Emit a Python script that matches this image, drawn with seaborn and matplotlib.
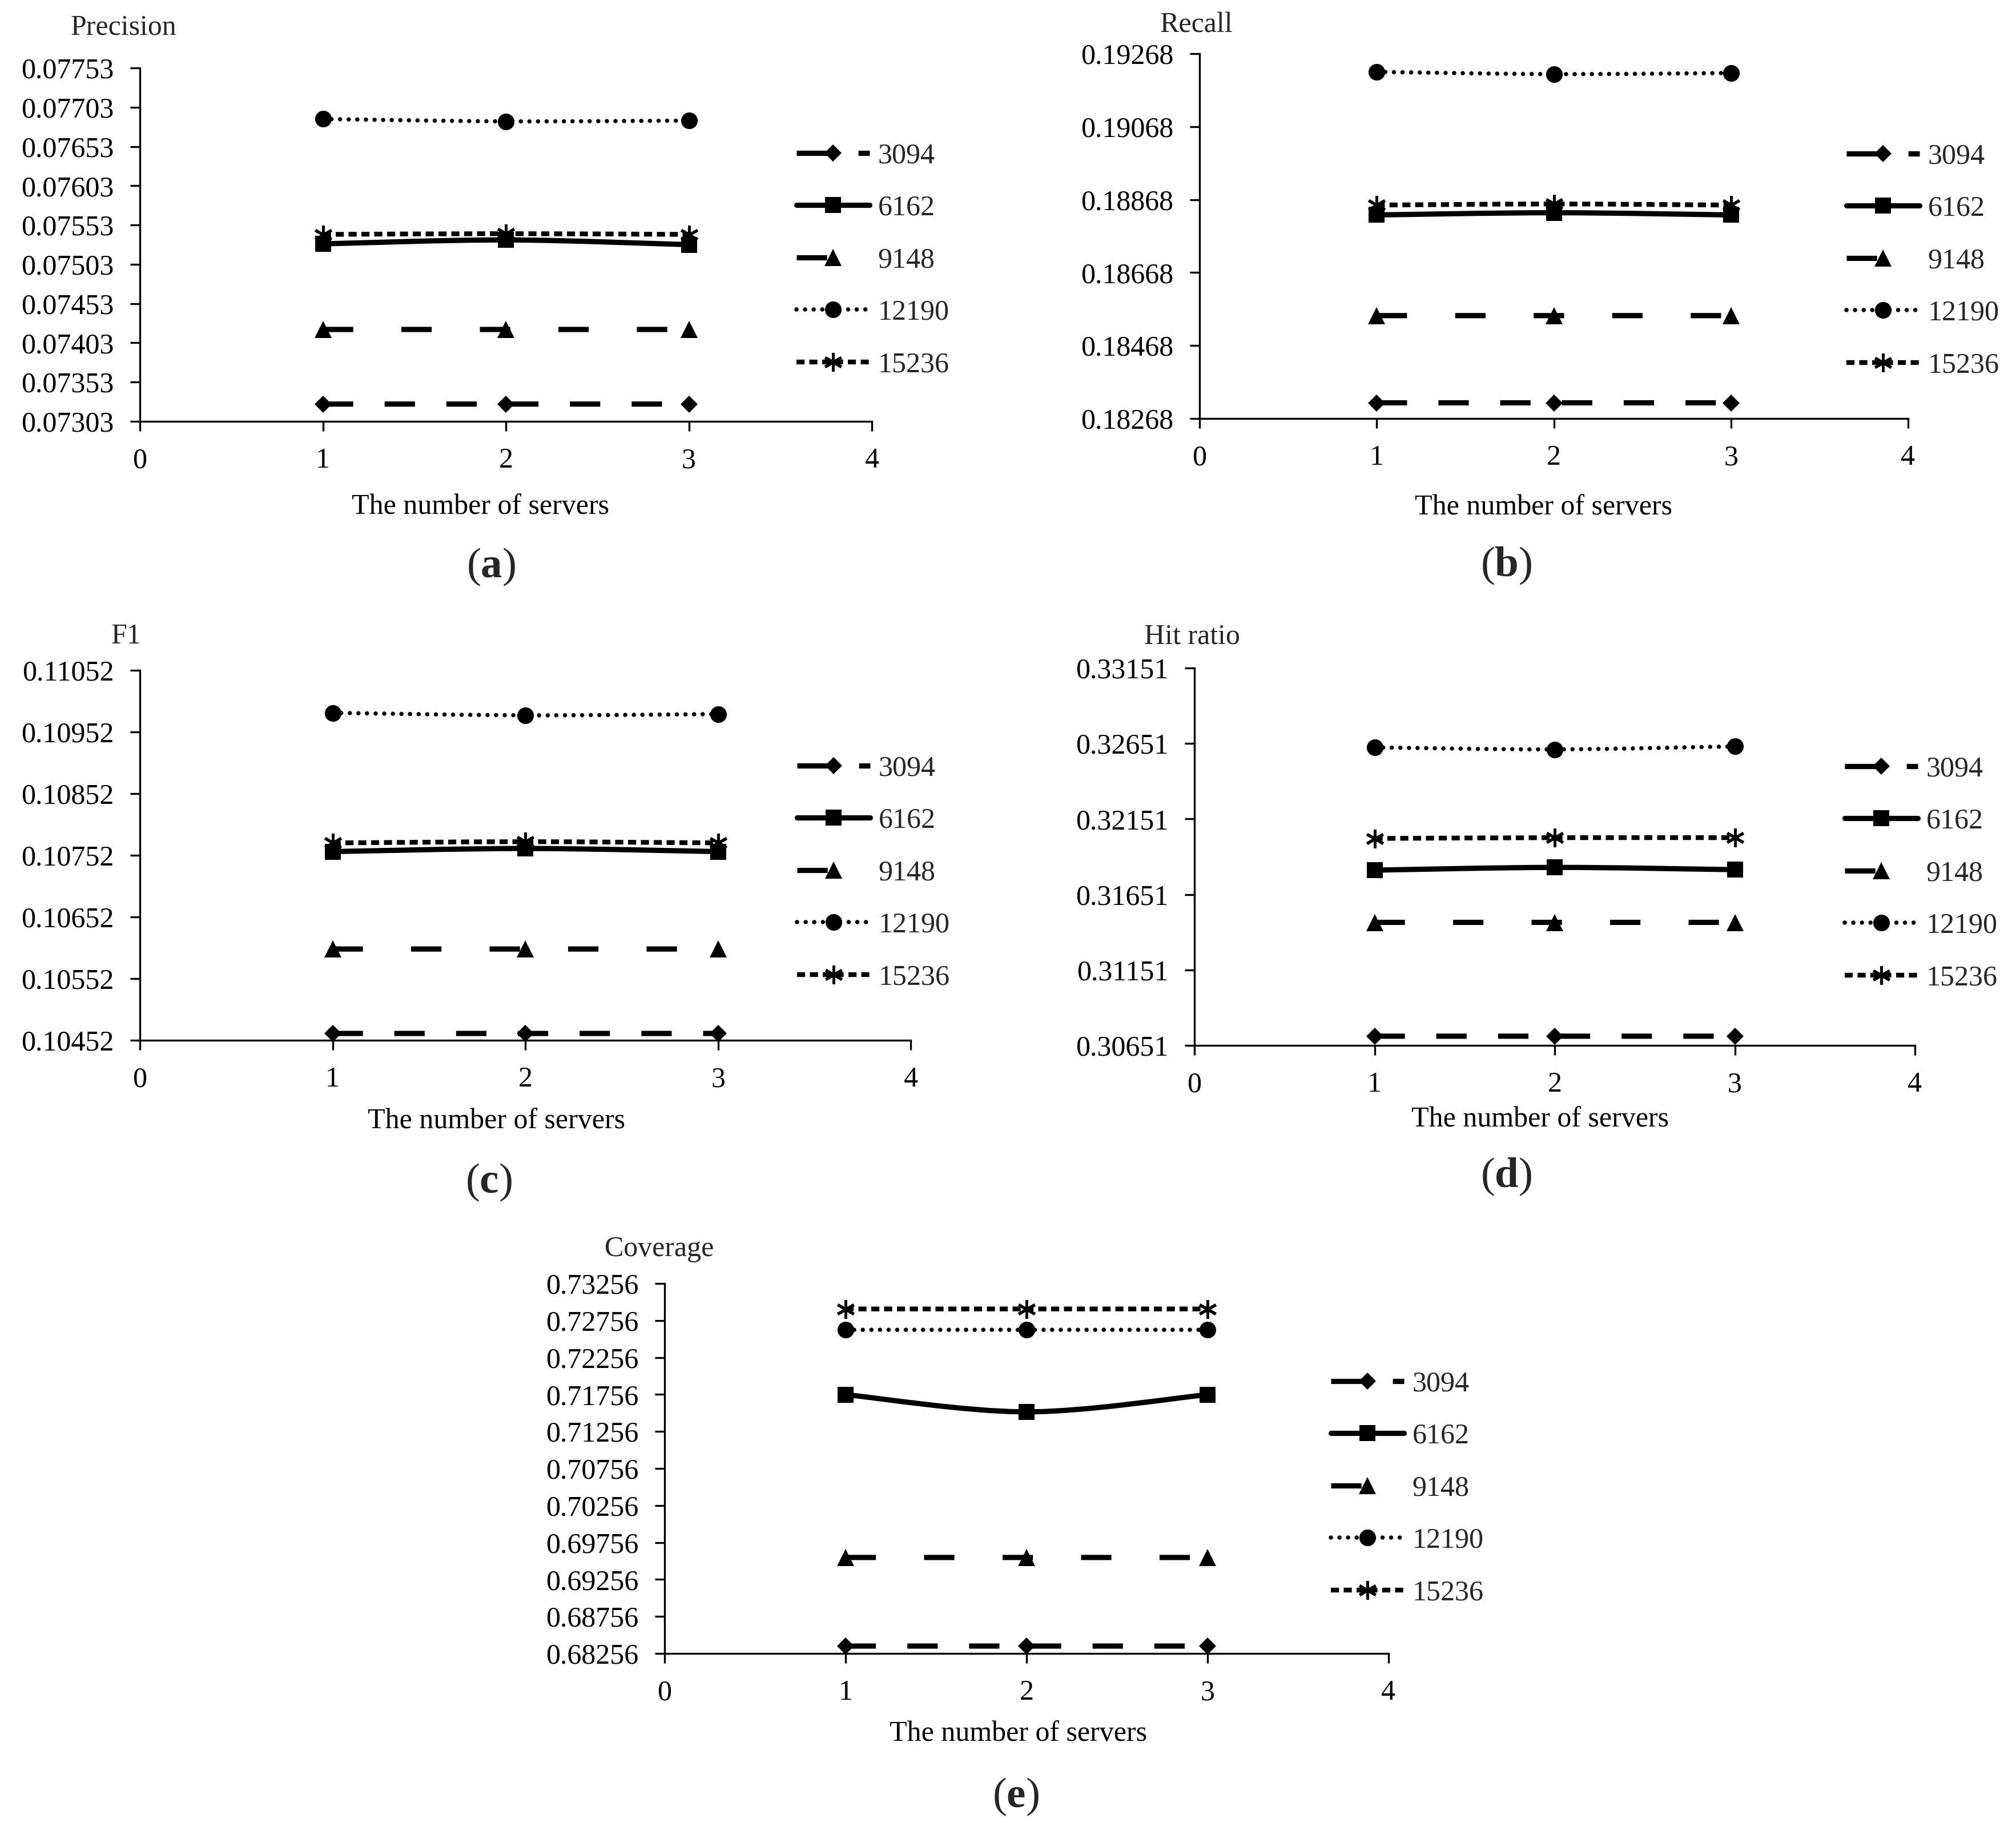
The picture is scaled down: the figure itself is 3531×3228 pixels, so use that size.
import numpy as np
import seaborn as sns
import matplotlib.pyplot as plt
from matplotlib.path import Path
from matplotlib.patches import PathPatch
from matplotlib.lines import Line2D
from matplotlib.ticker import FormatStrFormatter

# data
servers = [1, 2, 3]
sizes = ["3094", "6162", "9148", "12190", "15236"]

# rows follow `sizes`
precision = [[0.07325, 0.07325, 0.07325],
             [0.07529, 0.07534, 0.07528],
             [0.07420, 0.07420, 0.07420],
             [0.07688, 0.07685, 0.07686],
             [0.07541, 0.07542, 0.07541]]
recall = [[0.18311, 0.18311, 0.18311],
          [0.18826, 0.18832, 0.18826],
          [0.18550, 0.18550, 0.18550],
          [0.19218, 0.19212, 0.19215],
          [0.18853, 0.18856, 0.18853]]
f1 = [[0.10463, 0.10463, 0.10463],
      [0.10758, 0.10763, 0.10758],
      [0.10600, 0.10600, 0.10600],
      [0.10983, 0.10979, 0.10981],
      [0.10772, 0.10774, 0.10772]]
hit_ratio = [[0.30712, 0.30712, 0.30712],
             [0.31812, 0.31830, 0.31815],
             [0.31466, 0.31466, 0.31466],
             [0.32625, 0.32612, 0.32632],
             [0.32022, 0.32027, 0.32027]]
coverage = [[0.68356, 0.68356, 0.68356],
            [0.71754, 0.71521, 0.71754],
            [0.69553, 0.69553, 0.69553],
            [0.72630, 0.72630, 0.72630],
            [0.72912, 0.72912, 0.72912]]

metric_names = ["Precision", "Recall", "F1", "Hit ratio", "Coverage"]
y_ranges = [(0.07303, 0.07753, 0.0005),
            (0.18268, 0.19268, 0.002),
            (0.10452, 0.11052, 0.001),
            (0.30651, 0.33151, 0.005),
            (0.68256, 0.73256, 0.005)]
captions = ["a", "b", "c", "d", "e"]

W, H = 3531, 3228

# layout in pixels of the output image
axes_px = [(245, 119, 1527, 738), (2101, 94, 3342, 733),
           (245, 1174, 1595, 1822), (2092, 1170, 3354, 1831),
           (1164, 2248, 2432, 2896)]
title_px = [(216, 48), (2095, 44), (221, 1115), (2088, 1115), (1155, 2188)]
xlabel_px = [(842, 888), (2703, 889), (869, 1964), (2698, 1961), (1784, 3037)]
caption_px = [(860, 993), (2638, 991), (856, 2071), (2638, 2061), (1779, 3147)]
legend_px = [(1395, 456), (3234, 457), (1396, 1529), (3231, 1530), (2331, 2607)]

styles = {
    "3094": dict(marker="D", ms=5.2, ls=(0, (5.8, 6.0)), lw=2.2, cap="butt", mew=0),
    "6162": dict(marker="s", ms=6.6, ls="-", lw=2.2, cap="butt", mew=0),
    "9148": dict(marker="^", ms=7.0, ls=(0, (5.8, 9.2)), lw=2.2, cap="butt", mew=0),
    "12190": dict(marker="o", ms=7.0, ls=(0, (0.01, 2.0)), lw=1.8, cap="round", mew=0),
    "15236": dict(marker=(6, 2, 0), ms=7.8, ls=(0, (1.7, 1.0)), lw=2.0, cap="butt", mew=1.2),
}


def fig_box(l, t, r, b):
    return [l / W, 1 - b / H, (r - l) / W, (b - t) / H]


def smooth_path(xs, ys):
    # Excel-like smoothed line through the points (Catmull-Rom as Bezier)
    pts = np.column_stack([xs, ys]).astype(float)
    ext = np.vstack([pts[0], pts, pts[-1]])
    verts = [pts[0]]
    codes = [Path.MOVETO]
    for i in range(len(pts) - 1):
        p0, p1, p2, p3 = ext[i], ext[i + 1], ext[i + 2], ext[i + 3]
        verts += [p1 + (p2 - p0) / 6, p2 - (p3 - p1) / 6, p2]
        codes += [Path.CURVE4] * 3
    return Path(verts, codes)


sns.set_theme(style="ticks")
plt.rcParams["font.family"] = ["Liberation Serif", "DejaVu Serif"]
plt.rcParams["mathtext.fontset"] = "custom"
plt.rcParams["mathtext.rm"] = "Liberation Serif"
plt.rcParams["mathtext.bf"] = "Liberation Serif:bold"

fig = plt.figure(figsize=(W / 300, H / 300), dpi=300)
fig.patch.set_facecolor("white")

all_values = [precision, recall, f1, hit_ratio, coverage]

for k, values in enumerate(all_values):
    ax = fig.add_axes(fig_box(*axes_px[k]))
    ax.set_facecolor("white")

    for name, ys in zip(sizes, values):
        st = styles[name]
        ax.add_patch(PathPatch(smooth_path(servers, ys), fill=False, ec="black",
                               lw=st["lw"], ls=st["ls"], capstyle=st["cap"], zorder=2))
        sns.lineplot(x=servers, y=ys, ax=ax, color="black", marker=st["marker"],
                     markersize=st["ms"], markeredgecolor="black",
                     markeredgewidth=st["mew"], linestyle="none", zorder=3)

    ymin, ymax, step = y_ranges[k]
    ax.set_xlim(0, 4)
    ax.set_ylim(ymin, ymax)
    ax.set_xticks([0, 1, 2, 3, 4])
    ax.set_yticks(np.arange(ymin, ymax + step / 2, step))
    ax.yaxis.set_major_formatter(FormatStrFormatter("%.5f"))
    sns.despine(ax=ax)
    for side in ["left", "bottom"]:
        ax.spines[side].set_linewidth(0.8)
        ax.spines[side].set_color("black")
    ax.tick_params(direction="out", length=4, width=0.8, pad=7, labelsize=12,
                   colors="black")

    l, t, r, b = axes_px[k]
    xl, yl = xlabel_px[k]
    ax.set_xlabel("The number of servers", fontsize=12, color="black")
    ax.xaxis.set_label_coords((xl - l) / (r - l), (b - yl) / (b - t))
    ax.xaxis.label.set_va("center")
    ax.set_ylabel("")

    tx, ty = title_px[k]
    fig.text(tx / W, 1 - ty / H, metric_names[k], fontsize=12, ha="center", va="center")
    cx, cy = caption_px[k]
    fig.text(cx / W, 1 - cy / H, "($\\mathbf{%s}$)" % captions[k], fontsize=18,
             ha="center", va="center")

    handles = [Line2D([], [], color="black", lw=styles[n]["lw"], ls=styles[n]["ls"],
                      dash_capstyle=styles[n]["cap"], marker=styles[n]["marker"],
                      markersize=styles[n]["ms"], markeredgewidth=styles[n]["mew"],
                      markeredgecolor="black") for n in sizes]
    lx, ly = legend_px[k]
    ax.legend(handles, sizes, loc="center left", bbox_to_anchor=(lx / W, 1 - ly / H),
              bbox_transform=fig.transFigure, frameon=False, fontsize=12,
              borderpad=0, borderaxespad=0, handlelength=2.55, handletextpad=0.3,
              labelspacing=0.9, numpoints=1)

fig.savefig("out.png", dpi=300, facecolor="white")
